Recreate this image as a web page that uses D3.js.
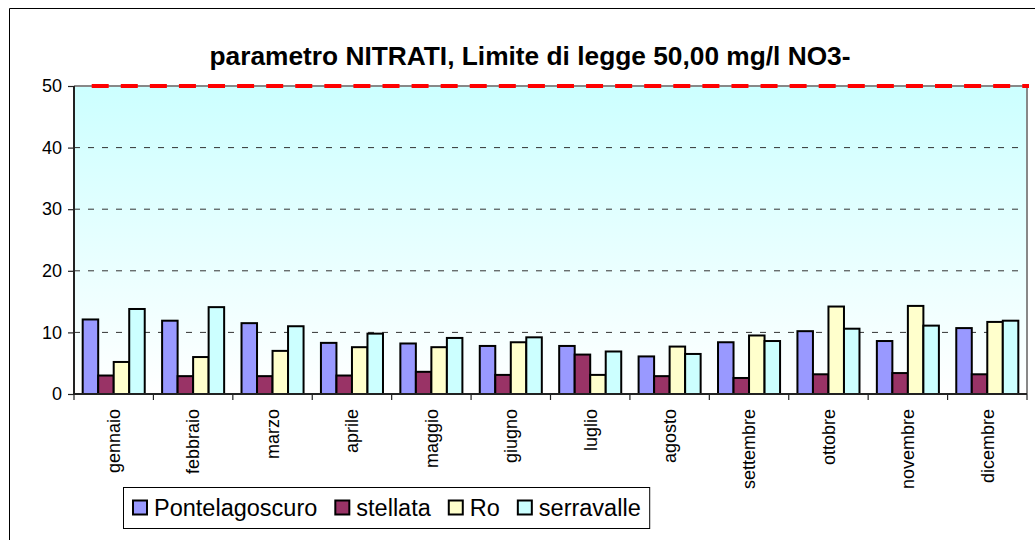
<!DOCTYPE html>
<html>
<head>
<meta charset="utf-8">
<script src="https://cdn.jsdelivr.net/npm/d3@7/dist/d3.min.js"></script>
<style>
  html, body { margin: 0; padding: 0; background: #ffffff; overflow: hidden; width: 1035px; height: 540px; }
  svg { display: block; overflow: hidden; font-family: "Liberation Sans", Arial, sans-serif; }
</style>
</head>
<body>
<svg id="chart" width="1035" height="540"></svg>
<script>
const months = ["gennaio","febbraio","marzo","aprile","maggio","giugno","luglio","agosto","settembre","ottobre","novembre","dicembre"];
const seriesNames = ["Pontelagoscuro","stellata","Ro","serravalle"];
const pontelagoscuro = [12.1, 11.9, 11.5, 8.3, 8.2, 7.8, 7.8, 6.1, 8.4, 10.2, 8.6, 10.7];
const stellata       = [3.0, 2.9, 2.9, 3.0, 3.6, 3.1, 6.4, 2.9, 2.6, 3.2, 3.4, 3.2];
const ro             = [5.2, 6.0, 7.0, 7.6, 7.6, 8.4, 3.1, 7.7, 9.5, 14.2, 14.3, 11.7];
const serravalle     = [13.8, 14.1, 11.0, 9.8, 9.1, 9.2, 6.9, 6.5, 8.6, 10.6, 11.1, 11.9];
const yTicks = [0, 10, 20, 30, 40, 50];
const limitValue = 50;
const titleText = "parametro NITRATI, Limite di legge 50,00 mg/l NO3-";

const colors = ["#9999ff", "#993366", "#ffffcc", "#ccffff"];
const seriesValues = [pontelagoscuro, stellata, ro, serravalle];

const svg = d3.select("#chart");
const plot = { left: 74, right: 1027, top: 86, bottom: 394 };

// outer chart border (left and top edges visible; right/bottom lie outside the picture)
svg.append("path").attr("d", "M9.5,540V8.5H1035")
  .attr("fill", "none").attr("stroke", "#000").attr("stroke-width", 1);

// gradient background
const defs = svg.append("defs");
const grad = defs.append("linearGradient").attr("id", "bg").attr("x1", 0).attr("y1", 0).attr("x2", 0).attr("y2", 1);
grad.append("stop").attr("offset", "0%").attr("stop-color", "#ccffff");
grad.append("stop").attr("offset", "100%").attr("stop-color", "#ffffff");

const x0 = d3.scaleBand().domain(months).range([plot.left, plot.right]).padding(0);
const x1 = d3.scaleBand().domain(seriesNames).range([0, x0.bandwidth()]).paddingInner(0).paddingOuter(0.56);
const y = d3.scaleLinear().domain([0, 50]).range([plot.bottom, plot.top]);

svg.append("rect").attr("x", plot.left).attr("y", plot.top)
  .attr("width", plot.right - plot.left).attr("height", plot.bottom - plot.top)
  .attr("fill", "url(#bg)");

// gridlines
svg.append("g").selectAll("line").data(yTicks.filter(d => d > 0 && d < 50)).join("line")
  .attr("x1", plot.left).attr("x2", plot.right)
  .attr("y1", d => y(d)).attr("y2", d => y(d))
  .attr("stroke", "#333").attr("stroke-width", 1).attr("stroke-dasharray", "6,8");

// plot border top & right (gray)
svg.append("path")
  .attr("d", `M${plot.left},${y(50)}H${plot.right}V${plot.bottom}`)
  .attr("fill", "none").attr("stroke", "#888").attr("stroke-width", 2);

// bars
const table = months.map((m, i) => ({ month: m, values: seriesNames.map((s, k) => ({ series: s, k, value: seriesValues[k][i] })) }));
const groups = svg.append("g").selectAll("g").data(table).join("g")
  .attr("transform", d => `translate(${x0(d.month)},0)`);
groups.selectAll("rect").data(d => d.values).join("rect")
  .attr("x", d => x1(d.series))
  .attr("y", d => y(d.value))
  .attr("width", x1.bandwidth())
  .attr("height", d => y(0) - y(d.value))
  .attr("fill", d => colors[d.k])
  .attr("stroke", "#000").attr("stroke-width", 2);

// red limit line
svg.append("line")
  .attr("x1", plot.left + 17.7).attr("x2", plot.right + 2)
  .attr("y1", y(limitValue)).attr("y2", y(limitValue))
  .attr("stroke", "#ff0000").attr("stroke-width", 4)
  .attr("stroke-dasharray", "17,12.08");

// y axis
const yAxis = d3.axisLeft(y).tickValues(yTicks).tickSize(6).tickPadding(6).tickFormat(d3.format("d"));
const yg = svg.append("g").attr("transform", `translate(${plot.left},0)`).call(yAxis);
yg.select(".domain").attr("stroke", "#222").attr("stroke-width", 2).attr("d", `M0,${plot.bottom}V${plot.top}`);
yg.selectAll(".tick line").attr("stroke", "#222").attr("stroke-width", 1.2);
yg.selectAll(".tick text").attr("font-size", 18).attr("fill", "#000")
  .attr("font-family", "Liberation Sans, Arial, sans-serif");

// x axis baseline
svg.append("line").attr("x1", plot.left).attr("x2", plot.right)
  .attr("y1", y(0)).attr("y2", y(0)).attr("stroke", "#222").attr("stroke-width", 2);
// x ticks between categories
const boundaries = months.map(m => x0(m)).concat([x0.range()[1]]);
svg.append("g").selectAll("line").data(boundaries).join("line")
  .attr("x1", d => d).attr("x2", d => d)
  .attr("y1", y(0)).attr("y2", y(0) + 6)
  .attr("stroke", "#222").attr("stroke-width", 1.2);
// month labels
svg.append("g").selectAll("text").data(months).join("text")
  .attr("transform", d => `translate(${x0(d) + x0.bandwidth() / 2},${y(0) + 15}) rotate(-90)`)
  .attr("text-anchor", "end").attr("dy", "0.35em")
  .attr("font-size", 18).attr("fill", "#000")
  .text(d => d);

// title
svg.append("text").attr("x", 530).attr("y", 65).attr("text-anchor", "middle")
  .attr("font-size", 26.3).attr("font-weight", "bold").attr("fill", "#000")
  .text(titleText);

// legend
const legend = svg.append("g");
const legendBox = legend.append("rect").attr("x", 123.5).attr("y", 487.5).attr("height", 41)
  .attr("fill", "#fff").attr("stroke", "#000").attr("stroke-width", 1);
let lx = 133;
seriesNames.forEach((s, k) => {
  legend.append("rect").attr("x", lx).attr("y", 500.5).attr("width", 14).attr("height", 14)
    .attr("fill", colors[k]).attr("stroke", "#000").attr("stroke-width", 2);
  const t = legend.append("text").attr("x", lx + 21).attr("y", 516)
    .attr("font-size", 23.5).attr("fill", "#000").text(s);
  const w = t.node().getComputedTextLength();
  lx = lx + 21 + w + 18;
});
legendBox.attr("width", lx - 18 + 9 - 123.5);
</script>
</body>
</html>
